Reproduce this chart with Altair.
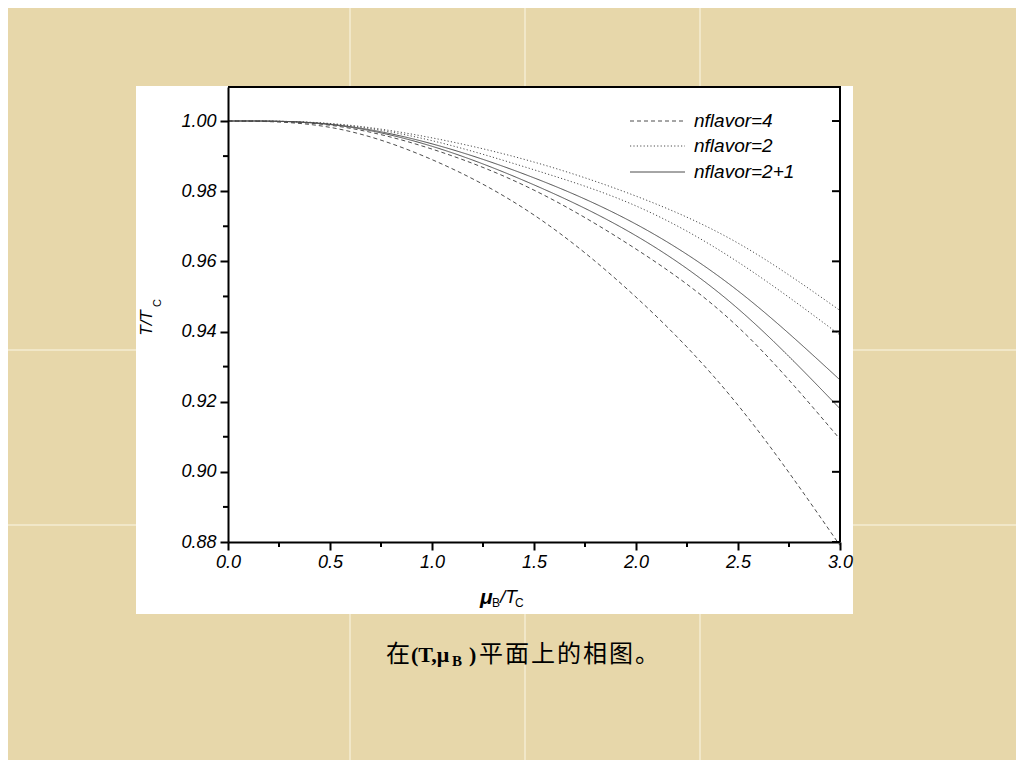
import altair as alt
import pandas as pd

# ---- data ----
mu = [0.0, 0.5, 1.0, 1.5, 2.0, 2.5, 3.0]
nf4_low = [1.0, 0.9982, 0.9890, 0.9732, 0.9498, 0.9190, 0.8790]
nf4_high = [1.0, 0.9988, 0.9920, 0.9803, 0.9635, 0.9413, 0.9093]
nf21_low = [1.0, 0.9990, 0.9928, 0.9818, 0.9673, 0.9465, 0.9180]
nf21_high = [1.0, 0.9991, 0.9935, 0.9838, 0.9706, 0.9516, 0.9262]
nf2_low = [1.0, 0.9992, 0.9944, 0.9861, 0.9758, 0.9598, 0.9390]
nf2_high = [1.0, 0.9993, 0.9952, 0.9883, 0.9786, 0.9652, 0.9460]

curves = [
    ("nflavor=4", nf4_low), ("nflavor=4", nf4_high),
    ("nflavor=2+1", nf21_low), ("nflavor=2+1", nf21_high),
    ("nflavor=2", nf2_low), ("nflavor=2", nf2_high),
]
legend_names = ["nflavor=4", "nflavor=2", "nflavor=2+1"]
x_ticks = [0.0, 0.5, 1.0, 1.5, 2.0, 2.5, 3.0]
x_minor = [0.25, 0.75, 1.25, 1.75, 2.25, 2.75]
y_ticks = [0.88, 0.90, 0.92, 0.94, 0.96, 0.98, 1.00]
y_minor = [0.89, 0.91, 0.93, 0.95, 0.97, 0.99]
caption_tail = list("平面上的相图。")

rows = []
for cid, (name, vals) in enumerate(curves):
    for m, v in zip(mu, vals):
        rows.append({"mu": m, "T": v, "flavor": name, "curve": cid})
df = pd.DataFrame(rows)

W, H = 612, 455
dash_domain = ["nflavor=4", "nflavor=2", "nflavor=2+1"]
dash_range = [[4, 3], [1.2, 2.2], [1, 0]]
xscale = alt.Scale(domain=[0, 3], nice=False, zero=False)
yscale = alt.Scale(domain=[0.88, 1.0097], nice=False, zero=False)
one = pd.DataFrame({"a": [0]})

LINE = "#4d4d4d"

# background tile seams
vseams = alt.Chart(pd.DataFrame({"p": [122, 297, 472]})).mark_rule(
    color="#f4ecd2", strokeWidth=1.5
).encode(x=alt.X("p:Q", scale=None), y=alt.value(-79), y2=alt.value(673))
hseams = alt.Chart(pd.DataFrame({"p": [263, 438]})).mark_rule(
    color="#f4ecd2", strokeWidth=1.5
).encode(y=alt.Y("p:Q", scale=None), x=alt.value(-220), x2=alt.value(788))

box = alt.Chart(one).mark_rect(fill="white").encode(
    x=alt.value(-92), x2=alt.value(625), y=alt.value(-1), y2=alt.value(527)
)

lines = alt.Chart(df).mark_line(color=LINE, strokeWidth=1, interpolate="natural").encode(
    x=alt.X("mu:Q", scale=xscale, axis=alt.Axis(
        values=x_ticks, format=".1f", title=None, tickSize=8, tickWidth=2,
        tickColor="black", domainColor="black", domainWidth=2,
        labelFont="Liberation Sans", labelFontStyle="italic", labelFontSize=18,
        labelColor="black", labelPadding=3, zindex=1, grid=False,
        labelFlush=False)),
    y=alt.Y("T:Q", scale=yscale, axis=alt.Axis(
        values=y_ticks, format=".2f", title=None, tickSize=8, tickWidth=2,
        tickColor="black", domainColor="black", domainWidth=2,
        labelFont="Liberation Sans", labelFontStyle="italic", labelFontSize=18,
        labelColor="black", labelPadding=4, zindex=1, grid=False)),
    strokeDash=alt.StrokeDash("flavor:N", scale=alt.Scale(domain=dash_domain, range=dash_range), legend=None),
    detail="curve:N",
)

yminor = alt.Chart(pd.DataFrame({"v": y_minor})).mark_rule(color="black", strokeWidth=2).encode(
    y=alt.Y("v:Q", scale=yscale), x=alt.value(-5), x2=alt.value(0)
)
xminor = alt.Chart(pd.DataFrame({"v": x_minor})).mark_rule(color="black", strokeWidth=2).encode(
    x=alt.X("v:Q", scale=xscale), y=alt.value(H), y2=alt.value(H + 5)
)
yright = alt.Chart(pd.DataFrame({"v": y_ticks})).mark_rule(color="black", strokeWidth=2).encode(
    y=alt.Y("v:Q", scale=yscale), x=alt.value(W - 8), x2=alt.value(W)
)
frame_top = alt.Chart(one).mark_rule(color="black", strokeWidth=2).encode(
    x=alt.value(0), x2=alt.value(W + 1), y=alt.value(0)
)
frame_right = alt.Chart(one).mark_rule(color="black", strokeWidth=2).encode(
    x=alt.value(W), y=alt.value(0), y2=alt.value(H)
)

# manual legend
leg = pd.DataFrame({"flavor": legend_names, "row": [0, 1, 2]})
leg_y = {0: 34, 1: 59, 2: 85}
leg["ypix"] = leg["row"].map(leg_y)
leg_lines = alt.Chart(leg).mark_rule(color=LINE, strokeWidth=1).encode(
    x=alt.value(402), x2=alt.value(457),
    y=alt.Y("ypix:Q", scale=None),
    strokeDash=alt.StrokeDash("flavor:N", scale=alt.Scale(domain=dash_domain, range=dash_range), legend=None),
)
leg_text = alt.Chart(leg).mark_text(
    align="left", baseline="middle", font="Liberation Sans", fontStyle="italic",
    fontSize=19, color="black"
).encode(x=alt.value(466), y=alt.Y("ypix:Q", scale=None), text="flavor:N")

def label(txt, x, y, size, style="normal", weight="normal", font="Liberation Sans", angle=0, align="left"):
    return alt.Chart(pd.DataFrame({"t": [txt]})).mark_text(
        align=align, baseline="middle", font=font, fontSize=size, fontStyle=style,
        fontWeight=weight, angle=angle, color="black"
    ).encode(x=alt.value(x), y=alt.value(y), text="t:N")

# axis titles with subscripts
ytitle = label("T/T", -81, 236, 17, style="italic", angle=270, align="center")
ytitle_sub = label("C", -70, 216, 11, angle=270, align="center")
xt1 = label("μ", 252, 511, 21, style="italic", weight="bold")
xt2 = label("B", 264, 516, 12)
xt3 = label("/T", 272, 510, 19, style="italic")
xt4 = label("C", 287, 516, 12)

# caption
CY = 568
cap1 = label("在", 158, CY, 24, font="Noto Sans CJK SC")
cap2 = label("(T,μ", 183, CY, 22, weight="bold", font="Liberation Serif")
cap3 = label("B", 224, CY + 6, 15, weight="bold", font="Liberation Serif")
cap4 = label(")", 241, CY, 22, weight="bold", font="Liberation Serif")
tail = pd.DataFrame({"c": caption_tail, "i": list(range(len(caption_tail)))})
cap5 = alt.Chart(tail).transform_calculate(px="251 + datum.i * 26").mark_text(
    align="left", baseline="middle", font="Noto Sans CJK SC", fontSize=24, color="black"
).encode(x=alt.X("px:Q", scale=None), y=alt.value(CY), text="c:N")

chart = alt.layer(
    vseams, hseams, box, lines, yminor, xminor, yright, frame_top, frame_right,
    leg_lines, leg_text, ytitle, ytitle_sub, xt1, xt2, xt3, xt4,
    cap1, cap2, cap3, cap4, cap5,
).properties(
    width=W, height=H,
    autosize=alt.AutoSizeParams(type="none"),
    padding={"left": 220, "top": 79, "right": 176, "bottom": 218},
).configure(background="#e7d7aa").configure_view(stroke=None)

chart.save("out.html", embed_options={"renderer": "svg", "actions": False})
